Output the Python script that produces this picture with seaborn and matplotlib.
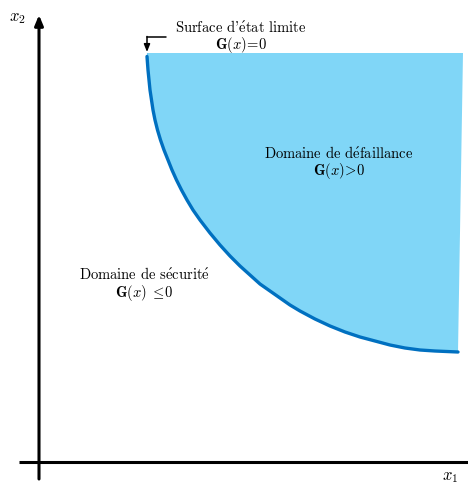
import matplotlib
matplotlib.use("Agg")
import matplotlib.pyplot as plt
import seaborn as sns
import pandas as pd

# limit-state curve G(x)=0 (origin at the axes crossing)
curve_x1 = [108, 108, 109, 110, 111, 112.5, 114, 116, 118.5, 121.5,
            125, 129, 133, 137.5, 142.5, 148, 154, 161,
            171, 181, 191, 201, 211, 221, 231, 241, 251, 261,
            276, 291, 306, 321, 336, 351, 366, 381, 396, 419]
curve_x2 = [409, 402, 392, 382, 372, 362, 352, 342, 332, 322,
            312, 302, 292, 282, 272, 262, 252, 242,
            229, 217, 206, 196, 187, 178, 171, 164, 157, 151,
            143, 136, 130, 125, 121, 117, 114, 112, 111, 110]
# right edge of the failure region (top, bottom)
edge_x1 = [424, 419]
edge_x2 = [409, 110]

lbl_surface = r"Surface d'$\mathrm{\acute{e}}$tat limite"
lbl_fail = r"Domaine de d$\mathrm{\acute{e}}$faillance"
lbl_safe = r"Domaine de s$\mathrm{\acute{e}}$curit$\mathrm{\acute{e}}$"

sns.set_style("white")
plt.rcParams['mathtext.fontset'] = 'cm'
plt.rcParams['font.family'] = ['cmr10', 'DejaVu Serif']
plt.rcParams['axes.unicode_minus'] = False
plt.rcParams['text.color'] = 'black'

df = pd.DataFrame({'x1': curve_x1, 'x2': curve_x2})

fig = plt.figure(figsize=(4.68, 4.84), dpi=100)
ax = fig.add_axes([0, 0, 1, 1])

# failure domain fill
poly_x = curve_x1 + [edge_x1[1], edge_x1[0]]
poly_y = curve_x2 + [edge_x2[1], edge_x2[0]]
ax.fill(poly_x, poly_y, color='#80d6f7', lw=0, zorder=1)

sns.lineplot(data=df, x='x1', y='x2', sort=False, color='#0070c0', lw=2.4,
             ax=ax, zorder=2)

# axes arrows
ax.annotate('', xy=(0, 447), xytext=(0, -17),
            arrowprops=dict(arrowstyle='-|>,head_length=0.6,head_width=0.25',
                            color='black', lw=2.2, shrinkA=0, shrinkB=0))
ax.plot([-20, 430], [0, 0], color='black', lw=2.2, solid_capstyle='butt')

# leader arrow to the limit-state surface
ax.plot([127, 108], [425, 425], color='black', lw=1.1)
ax.annotate('', xy=(108, 410), xytext=(108, 425.5),
            arrowprops=dict(arrowstyle='-|>,head_length=0.45,head_width=0.18',
                            color='black', lw=1.1, shrinkA=0, shrinkB=0))

fs = 10.5
ax.text(202, 435, lbl_surface, ha='center', va='center', fontsize=fs)
ax.text(202, 417, r'$\mathbf{G(}x\mathbf{)\!=\!0}$', ha='center', va='center', fontsize=fs)
ax.text(300, 309, lbl_fail, ha='center', va='center', fontsize=fs)
ax.text(300, 291, r'$\mathbf{G(}x\mathbf{)\!>\!0}$', ha='center', va='center', fontsize=fs)
ax.text(105, 188, lbl_safe, ha='center', va='center', fontsize=fs)
ax.text(105, 169, r'$\mathbf{G(}x\mathbf{)}\ \leq\!\mathbf{0}$', ha='center', va='center', fontsize=fs)

ax.text(-22, 444, r'$x_2$', ha='center', va='center', fontsize=12)
ax.text(411, -15, r'$x_1$', ha='center', va='center', fontsize=12)

ax.set_xlim(-39, 429)
ax.set_ylim(-22, 462)
ax.set_xlabel('')
ax.set_ylabel('')
ax.axis('off')

fig.savefig('out.png', dpi=100)
